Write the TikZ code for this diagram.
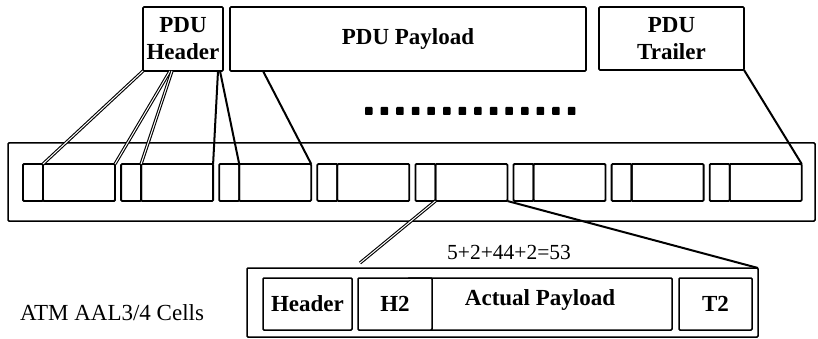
\documentclass[tikz,border=0pt]{standalone}
\usepackage{fontspec}
\setmainfont{Liberation Serif}
\usetikzlibrary{positioning}

\begin{document}
\begin{tikzpicture}[%
    x = 1pt, y = -1pt,
    font = \fontsize{23}{27}\selectfont,
    every node/.style = {inner sep = 0pt, outer sep = 0pt},
    pdubox/.style = {%
      draw, line width = 1.6pt, rounded corners = 1pt,
      minimum height = 64pt, align = center,
      font = \fontsize{23}{27}\selectfont\bfseries },
    cellhd/.style = {%
      draw, line width = 1.8pt, rounded corners = 1pt,
      minimum width = 20pt, minimum height = 37pt },
    cellbd/.style = {cellhd, minimum width = 72pt},
    fieldbox/.style = {%
      draw, fill = white, line width = 1.5pt, rounded corners = 1pt,
      minimum height = 52pt,
      font = \fontsize{23}{27}\selectfont\bfseries },
    twinlink/.style = {line width = 1.1pt, double = white, double distance = 1pt},
    plainlink/.style = {line width = 2pt}
  ]
  \useasboundingbox (0,0) rectangle (818,339);

  % the PDU
  \node[pdubox, minimum width = 80pt] (hdr) at (183,39) {PDU\\Header};
  \node[pdubox, minimum width = 356pt] (pay) at (408,39) {PDU Payload};
  \node[pdubox, minimum width = 145pt, minimum height = 63pt] (trl) at (671.5,38.5) {PDU\\Trailer};

  \foreach \k in {0,...,13}
    \fill[rounded corners = 0.8pt] ({365+15.6*\k},107) rectangle ++(7.5,8);

  % the cells
  \node[draw, line width = 1.5pt, rounded corners = 1pt,
    minimum width = 807pt, minimum height = 78pt] (frame) at (411.5,182) {};
  \foreach \i in {1,...,8} {
    \node[cellhd, anchor = north west] (h\i) at ({23+98.1*(\i-1)},164) {};
    \node[cellbd, right = 0pt of h\i] (b\i) {};
  }

  \draw[twinlink] (hdr.south west) -- (h1.north east);
  \draw[twinlink] ([xshift = -13pt]hdr.south) -- (b1.north east);
  \draw[twinlink] ([xshift = -11pt]hdr.south) -- (h2.north east);
  \draw[plainlink] ([xshift = -5pt]hdr.south east) -- (b2.north east);
  \draw[plainlink] ([xshift = -3pt]hdr.south east) -- (h3.north east);
  \draw[plainlink] ([xshift = 33pt]pay.south west) -- (b3.north east);
  \draw[plainlink] (trl.south east) -- (b8.north east);

  % one cell opened up
  \node at (509,252) {\fontsize{21.5}{25}\selectfont 5+2+44+2=53};
  \node (aal) at (112,313) {ATM AAL3/4 Cells};

  \node[draw, line width = 1.5pt, rounded corners = 1pt,
    minimum width = 511pt, minimum height = 69pt] (cell) at (502.5,302.5) {};
  \node[fieldbox, minimum width = 89pt] (chdr) at (307.5,304) {Header};
  \node[fieldbox, minimum width = 264pt,
    label = {[anchor = north, yshift = -12pt, font = \fontsize{23}{27}\selectfont\bfseries]north:Actual Payload}]
    (cpay) at (540,304) {};
  \node[fieldbox, minimum width = 74pt] (ch2) at (395,304) {H2};
  \node[fieldbox, minimum width = 73pt] (ct2) at (715.5,304) {T2};

  \coordinate (tip) at (360,263);
  \draw[twinlink] (h5.south east) -- (tip);
  \draw[plainlink] (b5.south east) -- (cell.north east);
\end{tikzpicture}
\end{document}
